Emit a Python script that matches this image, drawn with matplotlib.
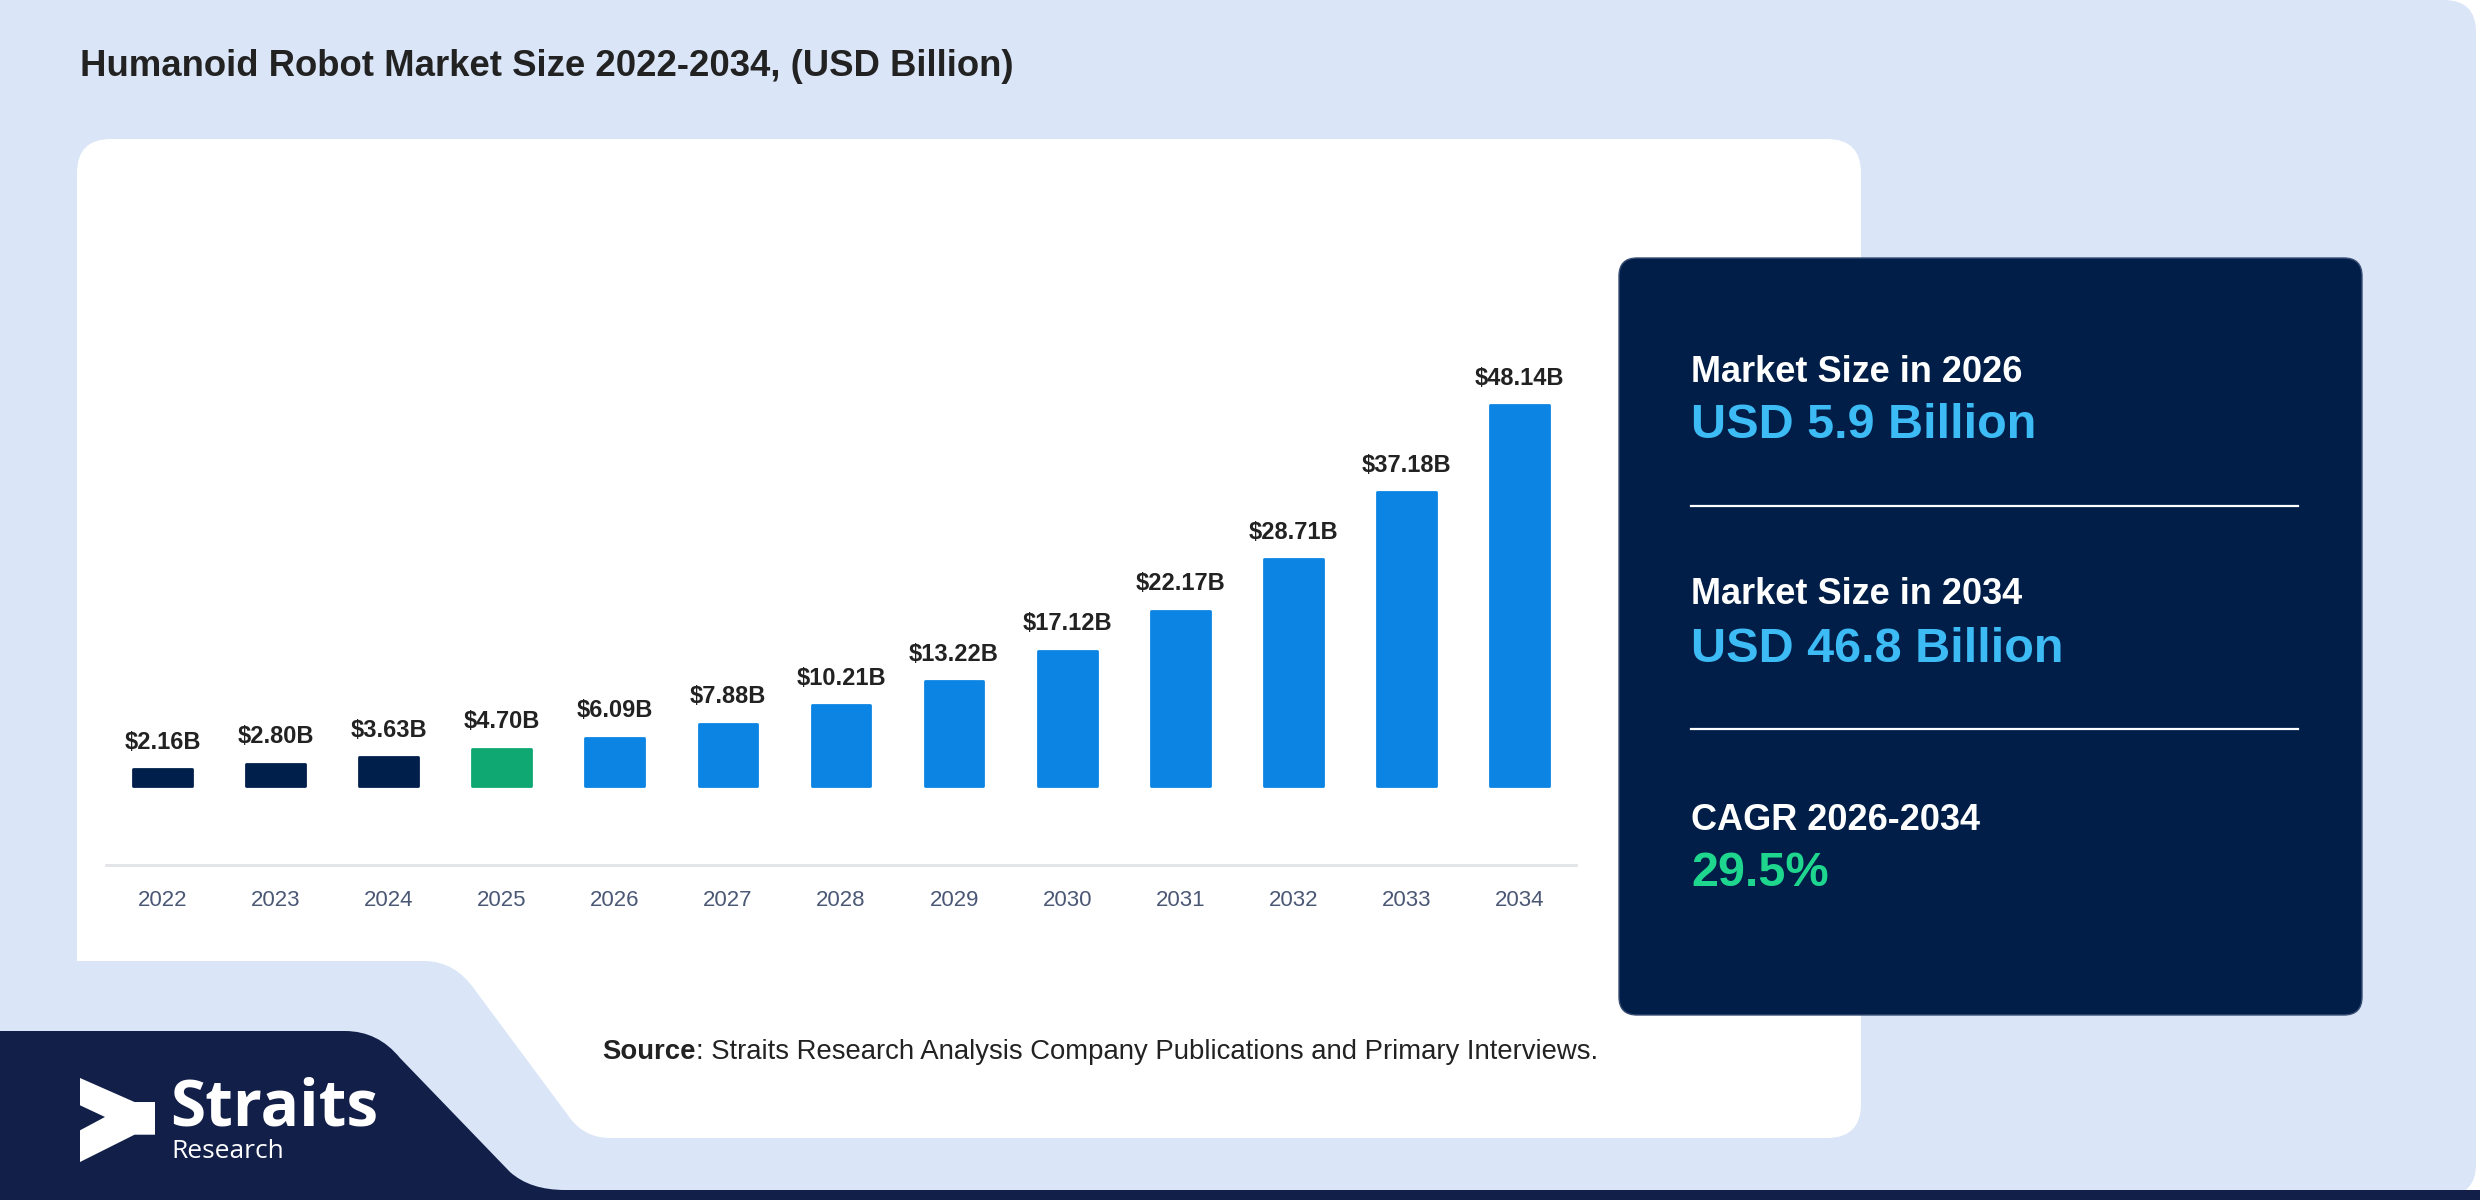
import matplotlib
matplotlib.use("Agg")
import matplotlib.pyplot as plt
from matplotlib.patches import FancyBboxPatch, Polygon, PathPatch
from matplotlib.path import Path

# chart data
years = [2022, 2023, 2024, 2025, 2026, 2027, 2028, 2029, 2030, 2031, 2032, 2033, 2034]
market_size = [2.16, 2.80, 3.63, 4.70, 6.09, 7.88, 10.21, 13.22, 17.12, 22.17, 28.71, 37.18, 48.14]

title = "Humanoid Robot Market Size 2022-2034, (USD Billion)"
panel_heads = ["Market Size in 2026", "Market Size in 2034", "CAGR 2026-2034"]
panel_values = ["USD 5.9 Billion", "USD 46.8 Billion", "29.5%"]
source_label = "Source"
source_rest = ": Straits Research Analysis Company Publications and Primary Interviews."

# colours
LIGHT_BG = "#dae6f8"
NAVY_BAND = "#121f48"
PANEL = "#001e48"
HIST = "#001f4a"
BASE = "#0fa873"
FORECAST = "#0b84e3"
TEXT = "#222222"
TICK = "#4a5875"
VALUE_BLUE = "#3dbbf5"
VALUE_GREEN = "#1fd68e"

NARROW = ["Liberation Sans Narrow", "Liberation Sans", "DejaVu Sans"]
SANS = ["Liberation Sans", "DejaVu Sans"]
LOGO = ["Open Sans", "DejaVu Sans"]

W, H = 2480, 1200
fig = plt.figure(figsize=(W / 100, H / 100), dpi=100, facecolor="white")

# background layer in pixel coordinates (y down)
bg = fig.add_axes([0, 0, 1, 1])
bg.set_xlim(0, W)
bg.set_ylim(H, 0)
bg.axis("off")

bg.add_patch(FancyBboxPatch((-60, 0), W - 4 + 60, H - 4,
                            boxstyle="round,pad=0,rounding_size=32",
                            fc=LIGHT_BG, ec="none"))

# white card
bg.add_patch(FancyBboxPatch((77, 139), 1861 - 77, 1138 - 139,
                            boxstyle="round,pad=0,rounding_size=34",
                            fc="white", ec="none"))

# notch cut from the bottom-left of the card
notch = Path([(60, 961), (424, 961), (455, 961), (475, 990),
              (570, 1118), (585, 1138), (610, 1138), (610, 1160), (60, 1160), (60, 961)],
             [Path.MOVETO, Path.LINETO, Path.CURVE3, Path.CURVE3,
              Path.LINETO, Path.CURVE3, Path.CURVE3, Path.LINETO, Path.LINETO, Path.CLOSEPOLY])
bg.add_patch(PathPatch(notch, fc=LIGHT_BG, ec="none"))

# navy logo band
band = Path([(0, 1031), (345, 1031), (378, 1031), (400, 1058),
             (510, 1172), (530, 1190), (565, 1190), (W, 1190), (W, H + 5), (0, H + 5), (0, 1031)],
            [Path.MOVETO, Path.LINETO, Path.CURVE3, Path.CURVE3,
             Path.LINETO, Path.CURVE3, Path.CURVE3, Path.LINETO, Path.LINETO, Path.LINETO, Path.CLOSEPOLY])
bg.add_patch(PathPatch(band, fc=NAVY_BAND, ec="none"))

# logo
cx0, cy0, cw, ch = 80, 1078, 75, 84
pts = [(0, 0), (0.727, 0.286), (1, 0.286), (1, 0.675), (0.727, 0.675),
       (0, 1), (0, 0.623), (0.333, 0.464), (0, 0.325)]
bg.add_patch(Polygon([(cx0 + u * cw, cy0 + v * ch) for u, v in pts], closed=True,
                     fc="white", ec="none"))
bg.text(170, 1126, "Straits", color="white", fontsize=46, fontweight="bold",
        family=LOGO, ha="left", va="baseline")
bg.text(171, 1158, "Research", color="white", fontsize=19,
        family=LOGO, ha="left", va="baseline")

# title
bg.text(80, 67, title, color=TEXT, fontsize=26.3, fontweight="bold",
        family=NARROW, ha="left", va="center")

# source line
src = bg.text(602, 1052, source_label, color=TEXT, fontsize=19.8, fontweight="bold",
              family=NARROW, ha="left", va="center")
bg.annotate(source_rest, xy=(1, 0), xycoords=src, color=TEXT, fontsize=19.8,
            family=NARROW, ha="left", va="bottom")

# info panel
bg.add_patch(FancyBboxPatch((1619, 258), 2362 - 1619, 1015 - 258,
                            boxstyle="round,pad=0,rounding_size=18",
                            fc=PANEL, ec="#3a4f75", lw=1.0))
head_y = [372, 595, 821]
val_y = [426, 650, 874]
val_colors = [VALUE_BLUE, VALUE_BLUE, VALUE_GREEN]
for hd, val, hy, vy, vc in zip(panel_heads, panel_values, head_y, val_y, val_colors):
    bg.text(1691, hy, hd, color="white", fontsize=26, fontweight="bold",
            family=SANS, ha="left", va="center")
    bg.text(1691, vy, val, color=vc, fontsize=35, fontweight="bold",
            family=SANS, ha="left", va="center")
for ly in [506, 729]:
    bg.plot([1691, 2298], [ly, ly], color="white", lw=1.6)

# bar chart axes: x index -0.5..12.5 spans 106..1576 px, y=-10 at 865 px, top at 150 px
ax = fig.add_axes([106 / W, (H - 865) / H, (1576 - 106) / W, (865 - 150) / H])
ax.patch.set_alpha(0)
x = list(range(len(years)))
colors = [HIST if y < 2025 else (BASE if y == 2025 else FORECAST) for y in years]
ax.bar(x, market_size, width=0.52, color=colors, edgecolor=colors, linewidth=2,
       joinstyle="round")
for xi, v in zip(x, market_size):
    ax.annotate(f"${v:.2f}B", xy=(xi, v), xytext=(0, 11), textcoords="offset points",
                ha="center", va="bottom", fontsize=17, fontweight="bold",
                color=TEXT, family=NARROW)
ax.set_xlim(-0.5, 12.5)
ax.set_ylim(-10, 80.4)
ax.set_xticks(x)
ax.set_xticklabels([str(y) for y in years], family=NARROW, fontsize=16, color=TICK)
ax.tick_params(axis="x", length=0, pad=18)
ax.set_yticks([])
for s in ["top", "right", "left"]:
    ax.spines[s].set_visible(False)
ax.spines["bottom"].set_color("#e2e4e8")
ax.spines["bottom"].set_linewidth(2)

fig.savefig("out.png", dpi=100, facecolor="white")
